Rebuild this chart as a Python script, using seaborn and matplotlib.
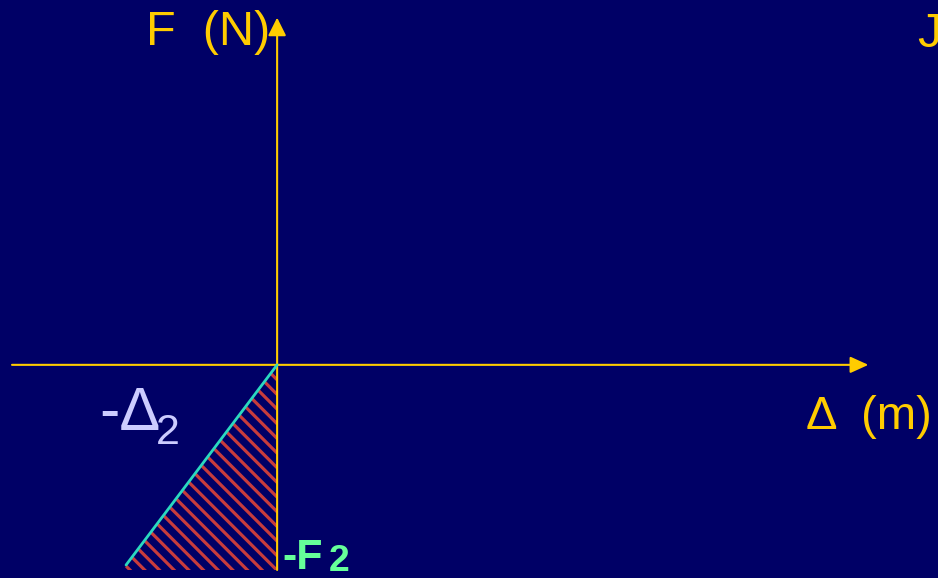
import matplotlib
matplotlib.use("Agg")
import matplotlib.pyplot as plt
import seaborn as sns

sns.set_theme(style="white")
plt.rcParams['font.family'] = ['Liberation Sans', 'DejaVu Sans']

# data (arbitrary units, origin at the axis crossing)
delta = [-151, 0]          # -Δ2 .. 0
force = [-200, 0]          # -F2 .. 0
area_x = [0, -154, 0]      # hatched work triangle
area_y = [0, -205, -205]

BG = "#000066"
GOLD = "#ffcc00"

DPI = 88
S = 100 / DPI   # keeps sizes expressed as at 100 dpi
plt.rcParams['hatch.linewidth'] = 2.6

fig = plt.figure(figsize=(938.4 / DPI, 578.4 / DPI), dpi=DPI, facecolor=BG)
ax = fig.add_axes([0, 0, 1, 1], facecolor=BG)
ax.set_xlim(-277, 661)
ax.set_ylim(-213, 365)
ax.axis("off")

# hatched triangle
ax.fill(area_x, area_y, facecolor="none", edgecolor="#c83c3c",
        hatch="\\\\", linewidth=0, zorder=1)

# axes with arrows
ax.annotate("", xy=(591, 0), xytext=(-265, 0),
            arrowprops=dict(arrowstyle="-|>,head_length=1.1,head_width=0.5",
                            color=GOLD, lw=1.5 * S, shrinkA=0, shrinkB=0,
                            mutation_scale=10 * S), zorder=3)
ax.annotate("", xy=(0, 347), xytext=(0, -205),
            arrowprops=dict(arrowstyle="-|>,head_length=1.1,head_width=0.55",
                            color=GOLD, lw=1.5 * S, shrinkA=0, shrinkB=0,
                            mutation_scale=10 * S), zorder=3)

# line
sns.lineplot(x=delta, y=force, ax=ax, color="#2ad9c0", linewidth=2 * S, zorder=4,
             estimator=None, sort=False)

# labels
ax.text(-131, 320, "F  (N)", color=GOLD, fontsize=35 * S, ha="left", va="baseline")
ax.text(640, 318, "J", color=GOLD, fontsize=35 * S, ha="left", va="baseline")
ax.text(529, -64, "Δ  (m)", color=GOLD, fontsize=34 * S, ha="left", va="baseline")
ax.text(-178, -65, "-Δ", color="#ccccff", fontsize=44 * S, ha="left", va="baseline")
ax.text(-121, -79, "2", color="#ccccff", fontsize=31 * S, ha="left", va="baseline")
ax.text(5, -204, "-F", color="#66ff99", fontsize=31 * S, fontweight="bold",
        ha="left", va="baseline")
ax.text(52, -206, "2", color="#66ff99", fontsize=27 * S, fontweight="bold",
        ha="left", va="baseline")

fig.savefig("out.png", dpi=DPI, facecolor=BG)
